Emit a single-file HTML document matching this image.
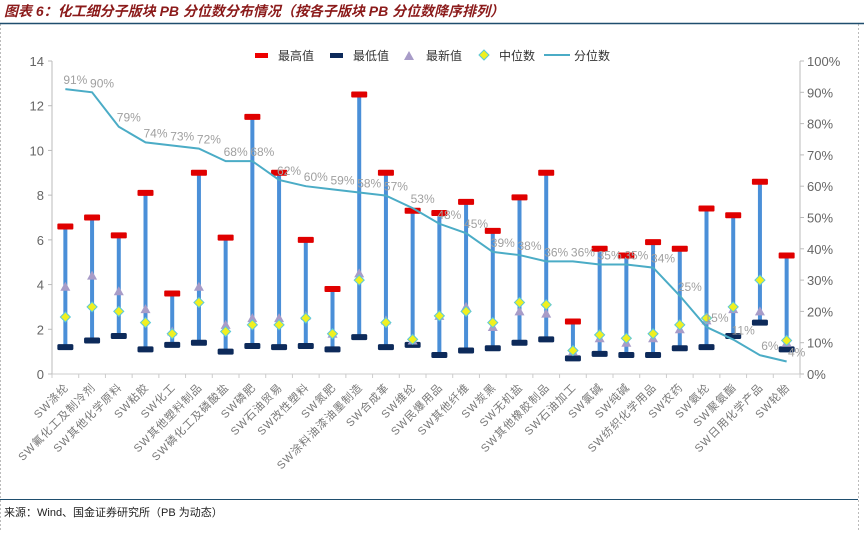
<!DOCTYPE html>
<html><head><meta charset="utf-8"><style>
body{margin:0;background:#fff;}
svg text{font-family:"Liberation Sans","Noto Sans CJK SC",sans-serif;}
</style></head><body>
<svg width="864" height="531" viewBox="0 0 864 531" xmlns="http://www.w3.org/2000/svg" id="chart">
<line x1="0.5" y1="24" x2="0.5" y2="531" stroke="#bbb" stroke-dasharray="2,2"/>
<line x1="858.5" y1="24" x2="858.5" y2="531" stroke="#bbb" stroke-dasharray="2,2"/>
<text x="4" y="16" font-size="14" font-weight="bold" font-style="italic" fill="#8B1A1A">图表 6：化工细分子版块 PB 分位数分布情况（按各子版块 PB 分位数降序排列）</text>
<line x1="0" y1="23.5" x2="864" y2="23.5" stroke="#1F4E6E" stroke-width="1.5"/>
<line x1="0" y1="499.5" x2="858" y2="499.5" stroke="#1F4E6E" stroke-width="1"/>
<text x="4" y="516" font-size="11" fill="#222">来源：Wind、国金证券研究所（PB 为动态）</text>
<g id="legend">
<rect x="255" y="53" width="13" height="5" fill="#E00"/>
<text x="278" y="60" font-size="12" fill="#333">最高值</text>
<rect x="330" y="53" width="13" height="5" fill="#0D2A5A"/>
<text x="353" y="60" font-size="12" fill="#333">最低值</text>
<polygon points="409,51 414,60 404,60" fill="#A89CC8"/>
<text x="426" y="60" font-size="12" fill="#333">最新值</text>
<polygon points="484,50 489,55 484,60 479,55" fill="#F0F020" stroke="#5CC8D8"/>
<text x="499" y="60" font-size="12" fill="#333">中位数</text>
<line x1="544" y1="55" x2="570" y2="55" stroke="#4BACC6" stroke-width="2"/>
<text x="574" y="60" font-size="12" fill="#333">分位数</text>
</g>
<g id="plot"></g>
</svg>
<script>
const categories=["SW涤纶","SW氟化工及制冷剂","SW其他化学原料","SW粘胶","SW化工","SW其他塑料制品","SW磷化工及磷酸盐","SW磷肥","SW石油贸易","SW改性塑料","SW氮肥","SW涂料油漆油墨制造","SW合成革","SW维纶","SW民爆用品","SW其他纤维","SW炭黑","SW无机盐","SW其他橡胶制品","SW石油加工","SW氯碱","SW纯碱","SW纺织化学用品","SW农药","SW氨纶","SW聚氨酯","SW日用化学产品","SW轮胎"];
const maxVals=[6.6,7.0,6.2,8.1,3.6,9.0,6.1,11.5,9.0,6.0,3.8,12.5,9.0,7.3,7.2,7.7,6.4,7.9,9.0,2.35,5.6,5.3,5.9,5.6,7.4,7.1,8.6,5.3];
const minVals=[1.2,1.5,1.7,1.1,1.3,1.4,1.0,1.25,1.2,1.25,1.1,1.65,1.2,1.3,0.85,1.05,1.15,1.4,1.55,0.7,0.9,0.85,0.85,1.15,1.2,1.7,2.3,1.1];
const latestVals=[3.9,4.4,3.7,2.9,1.9,3.9,2.2,2.5,2.5,2.6,1.8,4.5,2.4,1.5,2.6,3.0,2.1,2.8,2.7,1.0,1.6,1.4,1.6,2.0,2.4,2.9,2.8,1.4];
const medianVals=[2.55,3.0,2.8,2.3,1.8,3.2,1.9,2.2,2.2,2.5,1.8,4.2,2.3,1.55,2.6,2.8,2.3,3.2,3.1,1.05,1.75,1.6,1.8,2.2,2.5,3.0,4.2,1.5];
const pctVals=[91,90,79,74,73,72,68,68,62,60,59,58,57,53,48,45,39,38,36,36,35,35,34,25,15,11,6,4];
const leftTicks=[0,2,4,6,8,10,12,14];
const rightTicks=[0,10,20,30,40,50,60,70,80,90,100];

const NS="http://www.w3.org/2000/svg";
const g=document.getElementById('plot');
const X0=52,X1=800,Y0=374,Y1=61;
const n=categories.length, step=(X1-X0)/n;
const x=i=>X0+step*(i+0.5);
const yL=v=>Y0-(v/14)*(Y0-Y1);
const yR=v=>Y0-(v/100)*(Y0-Y1);
function el(t,a,p){const e=document.createElementNS(NS,t);for(const k in a)e.setAttribute(k,a[k]);(p||g).appendChild(e);return e;}

let e=el('line',{x1:X0,y1:Y1,x2:X0,y2:Y0,stroke:'#bbb'});


e=el('line',{x1:X1,y1:Y1,x2:X1,y2:Y0,stroke:'#bbb'});


e=el('line',{x1:X0,y1:Y0,x2:X1,y2:Y0,stroke:'#ccc'});


leftTicks.forEach(t=>{
  el('line',{x1:X0-4,y1:yL(t),x2:X0,y2:yL(t),stroke:'#bbb'});
  const tx=el('text',{x:X0-8,y:yL(t)+5,'font-size':13,'text-anchor':'end',fill:'#666'});
  tx.textContent=t;
  
  
});
rightTicks.forEach(t=>{
  el('line',{x1:X1,y1:yR(t),x2:X1+4,y2:yR(t),stroke:'#bbb'});
  const tx=el('text',{x:X1+7,y:yR(t)+5,'font-size':13,fill:'#666'});
  tx.textContent=t+'%';
  
  
});
for(let i=0;i<=n;i++) el('line',{x1:X0+step*i,y1:Y0,x2:X0+step*i,y2:Y0+4,stroke:'#ccc'});

categories.forEach((c,i)=>{
  const cx=x(i);
  const r=el('rect',{x:cx-2,y:yL(maxVals[i]),width:4,height:yL(minVals[i])-yL(maxVals[i]),fill:'#4A8FD8'});
  
  
  const mx=el('rect',{x:cx-8,y:yL(maxVals[i])-3,width:16,height:6,rx:1,fill:'#E00000'});
  
  
  const mn=el('rect',{x:cx-8,y:yL(minVals[i])-3,width:16,height:6,rx:1.5,fill:'#0D2A5A'});
  
  
  const yl=yL(latestVals[i]);
  const tr=el('polygon',{points:`${cx},${yl-5} ${cx+5},${yl+4} ${cx-5},${yl+4}`,fill:'#A89CC8'});
  
  
  const ym=yL(medianVals[i]);
  const dm=el('polygon',{points:`${cx},${ym-5} ${cx+5},${ym} ${cx},${ym+5} ${cx-5},${ym}`,fill:'#F0F020',stroke:'#5CC8D8'});
  
  
  const lb=el('text',{transform:`translate(${cx+4},${Y0+14}) rotate(-45)`,'font-size':11,'text-anchor':'end',fill:'#777','letter-spacing':'1'});
  lb.textContent=c;
  
  
});
const pl=el('polyline',{points:pctVals.map((v,i)=>x(i)+','+yR(v)).join(' '),fill:'none',stroke:'#4BACC6','stroke-width':2});


pctVals.forEach((v,i)=>{
  const t=el('text',{x:x(i)+10,y:yR(v)-5,'font-size':12,'text-anchor':'middle',fill:'#A0A0A0'});
  t.textContent=v+'%';
  
  
});
</script>
</body></html>
